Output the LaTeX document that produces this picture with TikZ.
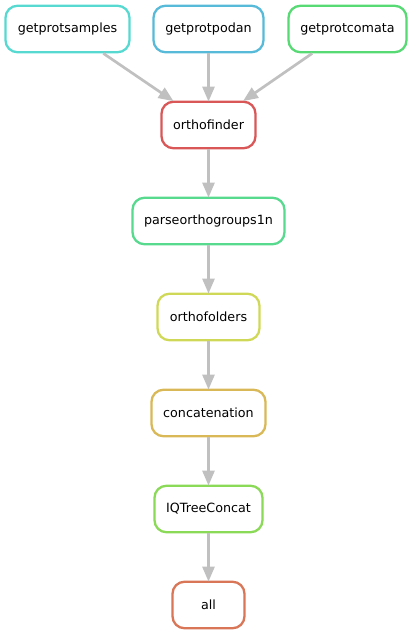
\documentclass[tikz,border=0pt]{standalone}
\usepackage{fontspec}
\setmainfont{DejaVu Sans}
\usetikzlibrary{arrows.meta}
\definecolor{cSamples}{HTML}{57D9D1}
\definecolor{cPodan}{HTML}{57BAD9}
\definecolor{cComata}{HTML}{57D974}
\definecolor{cOrthofinder}{HTML}{D95757}
\definecolor{cParse}{HTML}{57D98E}
\definecolor{cFolders}{HTML}{D0D957}
\definecolor{cConcat}{HTML}{D9B857}
\definecolor{cIQ}{HTML}{8AD957}
\definecolor{cAll}{HTML}{D97657}
\definecolor{edgegray}{HTML}{C0C0C0}
\tikzset{
  rule/.style={draw=#1, line width=2.3pt, rounded corners=12pt, fill=white,
    minimum height=46.5pt, inner sep=0pt, font=\fontsize{12.7}{15}\selectfont},
  link/.style={draw=edgegray, line width=2.7pt, -{Triangle[length=15pt,width=12pt]}, shorten >=-1pt}
}
\begin{document}
\begin{tikzpicture}[x=1pt,y=-1pt]
\useasboundingbox (0,0) rectangle (412,635);
\node[rule=cSamples, minimum width=124pt] (samples) at (67.5,29) {getprotsamples};
\node[rule=cPodan, minimum width=110pt] (podan) at (208.5,29) {getprotpodan};
\node[rule=cComata, minimum width=118pt] (comata) at (347.5,29) {getprotcomata};
\node[rule=cOrthofinder, minimum width=94pt] (orthofinder) at (208.5,125) {orthofinder};
\node[rule=cParse, minimum width=152pt] (parse) at (208.5,221) {parseorthogroups1n};
\node[rule=cFolders, minimum width=102pt] (folders) at (208.5,317) {orthofolders};
\node[rule=cConcat, minimum width=114pt] (concat) at (208.5,413) {concatenation};
\node[rule=cIQ, minimum width=108pt] (iq) at (208.5,509) {IQTreeConcat};
\node[rule=cAll, minimum width=72pt] (all) at (208.5,605) {all};
\draw[link] (samples) -- (orthofinder);
\draw[link] (podan) -- (orthofinder);
\draw[link] (comata) -- (orthofinder);
\draw[link] (orthofinder) -- (parse);
\draw[link] (parse) -- (folders);
\draw[link] (folders) -- (concat);
\draw[link] (concat) -- (iq);
\draw[link] (iq) -- (all);
\end{tikzpicture}
\end{document}
